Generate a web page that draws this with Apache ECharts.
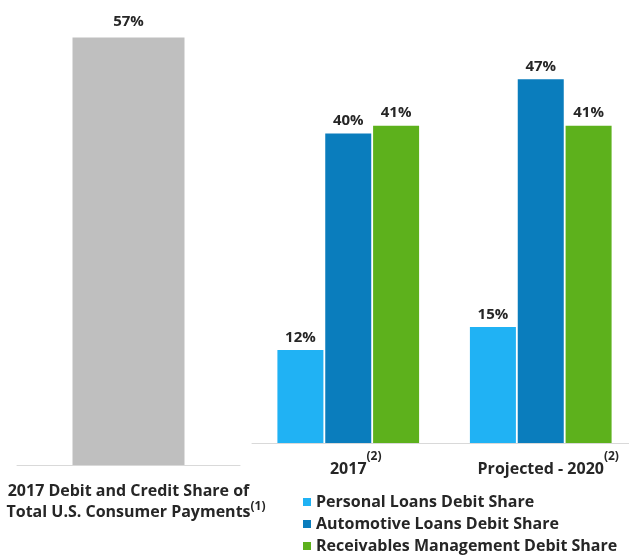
<!DOCTYPE html>
<html><head><meta charset="utf-8">
<script src="https://cdn.jsdelivr.net/npm/echarts@6/dist/echarts.min.js"></script>
<style>html,body{margin:0;padding:0;background:#fff}#c{width:629px;height:556px}</style>
</head><body><div id="c"></div>
<script>
const leftCategories = ['2017 Debit and Credit Share of|Total U.S. Consumer Payments|(1)'];
const leftValues = [57];
const rightCategories = ['2017|(2)', 'Projected - 2020|(2)'];
const seriesNames = ['Personal Loans Debit Share', 'Automotive Loans Debit Share', 'Receivables Management Debit Share'];
const personalLoans = [12, 15];
const automotiveLoans = [40, 47];
const receivables = [41, 41];
const colors = ['#20B2F4', '#0A7DBD', '#5DB11C'];
const grayColor = '#BFBFBF';

const FONT = 'Open Sans';
const textColor = '#262626';
const leftRich = {
  m: { fontFamily: FONT, fontWeight: 'bold', fontSize: 16, color: textColor, lineHeight: 20 },
  sup: { fontFamily: FONT, fontWeight: 'bold', fontSize: 12, color: textColor, padding: [0, 0, 10, 0] },
  sp: { fontFamily: FONT, fontWeight: 'bold', fontSize: 12, color: 'rgba(0,0,0,0)', padding: [0, 0, 10, 0] }
};
const rightRich = {
  m: { fontFamily: FONT, fontWeight: 'bold', fontSize: 16, color: textColor, lineHeight: 20 },
  sup: { fontFamily: FONT, fontWeight: 'bold', fontSize: 12, color: textColor, padding: [0, 0, 24, 0] },
  sp: { fontFamily: FONT, fontWeight: 'bold', fontSize: 12, color: 'rgba(0,0,0,0)', padding: [0, 0, 24, 0] }
};
function leftFmt(v) {
  const p = v.split('|');
  return '{m|' + p[0] + '}\n{sp|' + p[2] + '}{m|' + p[1] + '}{sup|' + p[2] + '}';
}
function rightFmt(v) {
  const p = v.split('|');
  return '{sp|' + p[1] + '}{m|' + p[0] + '}{sup|' + p[1] + '}';
}
const barLabel = {
  show: true, position: 'top', distance: 5, formatter: '{c}%',
  fontFamily: FONT, fontWeight: 'bold', fontSize: 15, color: textColor
};
const axisLine = { show: true, lineStyle: { color: '#D9D9D9', width: 1 } };

const chart = echarts.init(document.getElementById('c'), null, { renderer: 'canvas' });
chart.setOption({
  animation: false,
  backgroundColor: '#fff',
  grid: [
    { left: 17, width: 223, top: 15, height: 450, outerBoundsMode: 'none' },
    { left: 252, width: 385, top: 56, height: 387, outerBoundsMode: 'none' }
  ],
  xAxis: [
    { type: 'category', gridIndex: 0, data: leftCategories, axisLine: axisLine, axisTick: { show: false },
      axisLabel: { margin: 16, formatter: leftFmt, rich: leftRich, interval: 0 } },
    { type: 'category', gridIndex: 1, data: rightCategories, axisLine: axisLine, axisTick: { show: false },
      axisLabel: { margin: 8, formatter: rightFmt, rich: rightRich, interval: 0 } }
  ],
  yAxis: [
    { type: 'value', gridIndex: 0, min: 0, max: 60, show: false, splitLine: { show: false } },
    { type: 'value', gridIndex: 1, min: 0, max: 50, show: false, splitLine: { show: false } }
  ],
  legend: {
    data: seriesNames, orient: 'vertical', left: 298, top: 489, height: 100,
    icon: 'rect', itemWidth: 8, itemHeight: 8, itemGap: 6,
    textStyle: { fontFamily: FONT, fontWeight: 'bold', fontSize: 16, color: textColor }
  },
  series: [
    { type: 'bar', name: 'Debit and Credit', xAxisIndex: 0, yAxisIndex: 0, data: leftValues,
      barWidth: 112, itemStyle: { color: grayColor }, label: Object.assign({}, barLabel, { distance: 8 }) },
    { type: 'bar', name: seriesNames[0], xAxisIndex: 1, yAxisIndex: 1, data: personalLoans,
      barWidth: 46, barGap: '4%', itemStyle: { color: colors[0] }, label: barLabel },
    { type: 'bar', name: seriesNames[1], xAxisIndex: 1, yAxisIndex: 1, data: automotiveLoans,
      barWidth: 46, barGap: '4%', itemStyle: { color: colors[1] }, label: barLabel },
    { type: 'bar', name: seriesNames[2], xAxisIndex: 1, yAxisIndex: 1, data: receivables,
      barWidth: 46, barGap: '4%', itemStyle: { color: colors[2] }, label: barLabel }
  ]
});
</script></body></html>
